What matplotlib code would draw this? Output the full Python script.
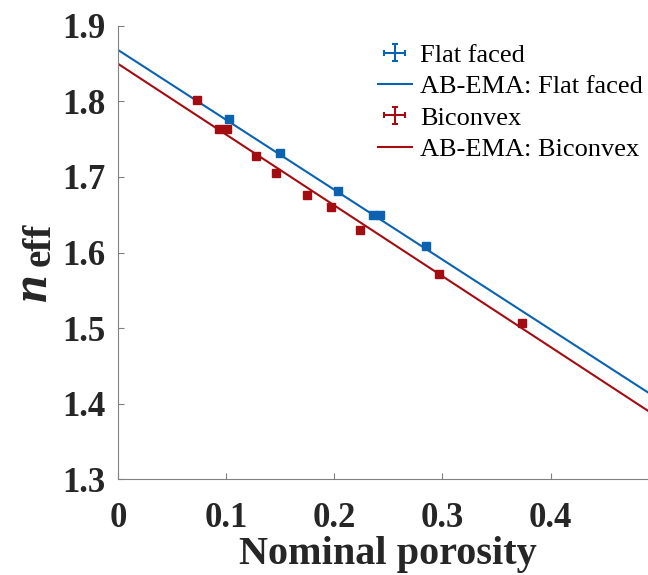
import matplotlib
matplotlib.use('Agg')
import matplotlib.pyplot as plt
from matplotlib.container import ErrorbarContainer
from matplotlib.legend_handler import HandlerErrorbar

plt.rcParams['font.family'] = 'Liberation Serif'

# measured points (error bars are smaller than the markers)
flat_x = [0.1025, 0.150, 0.2038, 0.2355, 0.242, 0.2844]
flat_y = [1.777, 1.731, 1.682, 1.649, 1.649, 1.608]

bicon_x = [0.073, 0.0937, 0.1006, 0.1274, 0.1459, 0.1748, 0.1973, 0.2235, 0.2967, 0.3737]
bicon_y = [1.802, 1.764, 1.764, 1.728, 1.705, 1.676, 1.660, 1.630, 1.571, 1.507]

# AB-EMA model lines
ema_x = [0, 0.49]
ema_flat = [1.868, 1.4149]
ema_bicon = [1.8497, 1.3906]

blue = '#0a62b0'
red = '#a30d12'
W, H = 648, 575
nan = float('nan')

fig = plt.figure(figsize=(6.48, 5.75), dpi=100)
ax = fig.add_axes([0.182, 0.1664, 0.818, 0.7889])

ax.plot(flat_x, flat_y, 's', ms=5.5, color=blue, zorder=5)
l1, = ax.plot(ema_x, ema_flat, color=blue, lw=1.5)
ax.plot(bicon_x, bicon_y, 's', ms=5.5, color=red, zorder=5)
l2, = ax.plot(ema_x, ema_bicon, color=red, lw=1.5)

# errorbar glyphs for the legend only (bars are hidden under the markers)
eb1 = ax.errorbar([nan], [nan], xerr=[0], yerr=[0], fmt='none',
                  ecolor=blue, elinewidth=1.5, capsize=2.5, capthick=1.5)
eb2 = ax.errorbar([nan], [nan], xerr=[0], yerr=[0], fmt='none',
                  ecolor=red, elinewidth=1.5, capsize=2.5, capthick=1.5)

ax.set_xlim(0, 0.49)
ax.set_ylim(1.3, 1.9)
ax.set_xticks([0, 0.1, 0.2, 0.3, 0.4])
ax.set_xticklabels(['0', '0.1', '0.2', '0.3', '0.4'])
ax.set_yticks([1.3, 1.4, 1.5, 1.6, 1.7, 1.8, 1.9])
ax.set_yticklabels(['1.3', '1.4', '1.5', '1.6', '1.7', '1.8', '1.9'])

for s in ['top', 'right']:
    ax.spines[s].set_visible(False)
for s in ['left', 'bottom']:
    ax.spines[s].set_color('#808080')
    ax.spines[s].set_linewidth(0.8)
ax.tick_params(direction='in', length=4, width=0.8, color='#808080',
               labelsize=25, labelcolor='#262626')
ax.tick_params(axis='y', pad=9)
ax.tick_params(axis='x', pad=16)
for t in ax.get_xticklabels() + ax.get_yticklabels():
    t.set_fontweight('bold')

ax.set_xlabel('Nominal porosity', fontsize=29, fontweight='bold', color='#262626')
ax.xaxis.set_label_coords(0.509, -0.125)

# y label: italic n with subscript "eff"
fig.text(34 / W, 1 - 287 / H, 'n', rotation=90, ha='center', va='center',
         fontsize=36, fontweight='bold', fontstyle='italic', color='#262626')
fig.text(40 / W, 1 - 244 / H, 'eff', rotation=90, ha='center', va='center',
         fontsize=28, fontweight='bold', color='#262626')

ax.legend([eb1, l1, eb2, l2],
          ['Flat faced', 'AB-EMA: Flat faced', 'Biconvex', 'AB-EMA: Biconvex'],
          handler_map={ErrorbarContainer: HandlerErrorbar(xerr_size=0.4, yerr_size=0.33)},
          loc='upper right', bbox_to_anchor=(1.015, 0.99), frameon=False,
          fontsize=19, handlelength=1.3, handletextpad=0.3,
          labelspacing=0.3, borderaxespad=0.1)

fig.savefig('out.png', dpi=100)
